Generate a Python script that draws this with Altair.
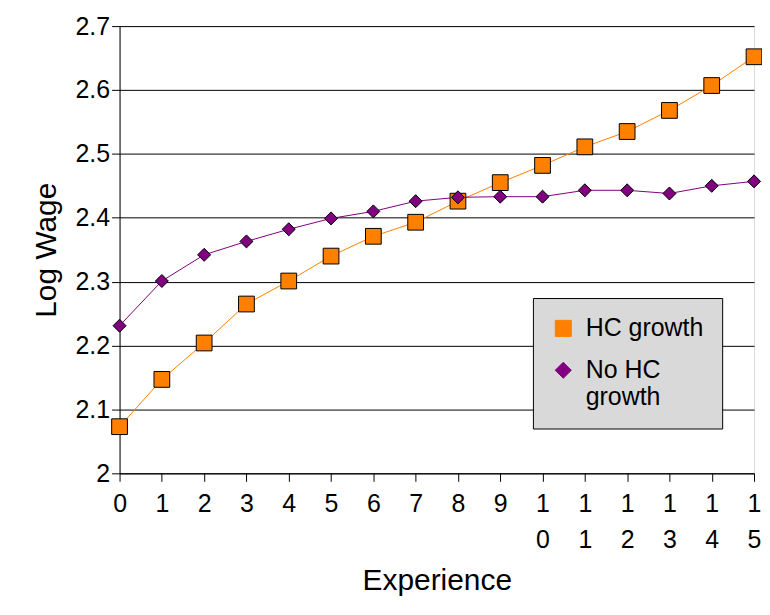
import altair as alt
import pandas as pd

exp = list(range(16))
hc = [2.073,2.147,2.204,2.265,2.301,2.340,2.371,2.393,2.426,2.455,2.482,2.511,2.535,2.568,2.607,2.652]
nohc = [2.231,2.301,2.342,2.363,2.382,2.399,2.410,2.426,2.432,2.433,2.433,2.443,2.443,2.438,2.450,2.457]
series = ["HC growth", "No HC growth"]

df = pd.DataFrame({"x": exp*2, "y": hc+nohc, "s": [series[0]]*16+[series[1]]*16})

F = "Liberation Sans"
x = alt.X("x:Q", title="Experience", scale=alt.Scale(domain=[0,15], nice=False),
          axis=alt.Axis(values=exp, grid=False, labelFontSize=25, titleFontSize=30, titleFontWeight="normal",
                        labelExpr="length(datum.label)>1 ? split(datum.label,'') : datum.label",
                        labelLineHeight=36, labelPadding=10, titlePadding=14, tickSize=8, domainColor="black", tickColor="black",
                        labelColor="black", titleColor="black", labelFont=F, titleFont=F, labelFlush=False))
y = alt.Y("y:Q", title="Log Wage", scale=alt.Scale(domain=[2,2.7], nice=False),
          axis=alt.Axis(values=[2,2.1,2.2,2.3,2.4,2.5,2.6,2.7], format="~g", labelFontSize=25, titleFontSize=30,
                        titleFontWeight="normal",
                        gridColor="black", gridOpacity=1, tickSize=8, domainColor="black", tickColor="black",
                        labelColor="black", titleColor="black", labelFont=F, titleFont=F, titlePadding=14))
leg = alt.Legend(title=None, orient="none", legendX=415, legendY=273,
                 fillColor="#d9d9d9", strokeColor="black", padding=18,
                 labelFontSize=25, labelFont=F, labelColor="black", symbolSize=260,
                 symbolStrokeColor="black", symbolStrokeWidth=1, rowPadding=16, labelLimit=300, labelOffset=10,
                 labelExpr="datum.label=='No HC growth' ? ['No HC','growth'] : datum.label")
color = alt.Color("s:N", scale=alt.Scale(domain=series, range=["#ff8000", "#800080"]), legend=leg)
shape = alt.Shape("s:N", scale=alt.Scale(domain=series, range=["square", "diamond"]), legend=leg)

lines = alt.Chart(df).mark_line(strokeWidth=1).encode(x=x, y=y, color=color, detail="s:N")
pts = alt.Chart(df).mark_point(filled=True, opacity=1, stroke="black", strokeWidth=1).encode(
    x=x, y=y, color=color, shape=shape,
    size=alt.condition("datum.s=='HC growth'", alt.value(250), alt.value(170)))

chart = (lines + pts).properties(width=637, height=449, autosize=alt.AutoSizeParams(type="none"),
                                 padding={"left": 112, "top": 17, "right": 8, "bottom": 125}) \
    .configure_view(stroke=None).configure(background="white")
chart.save("out.html", embed_options={"renderer": "svg", "actions": False})
